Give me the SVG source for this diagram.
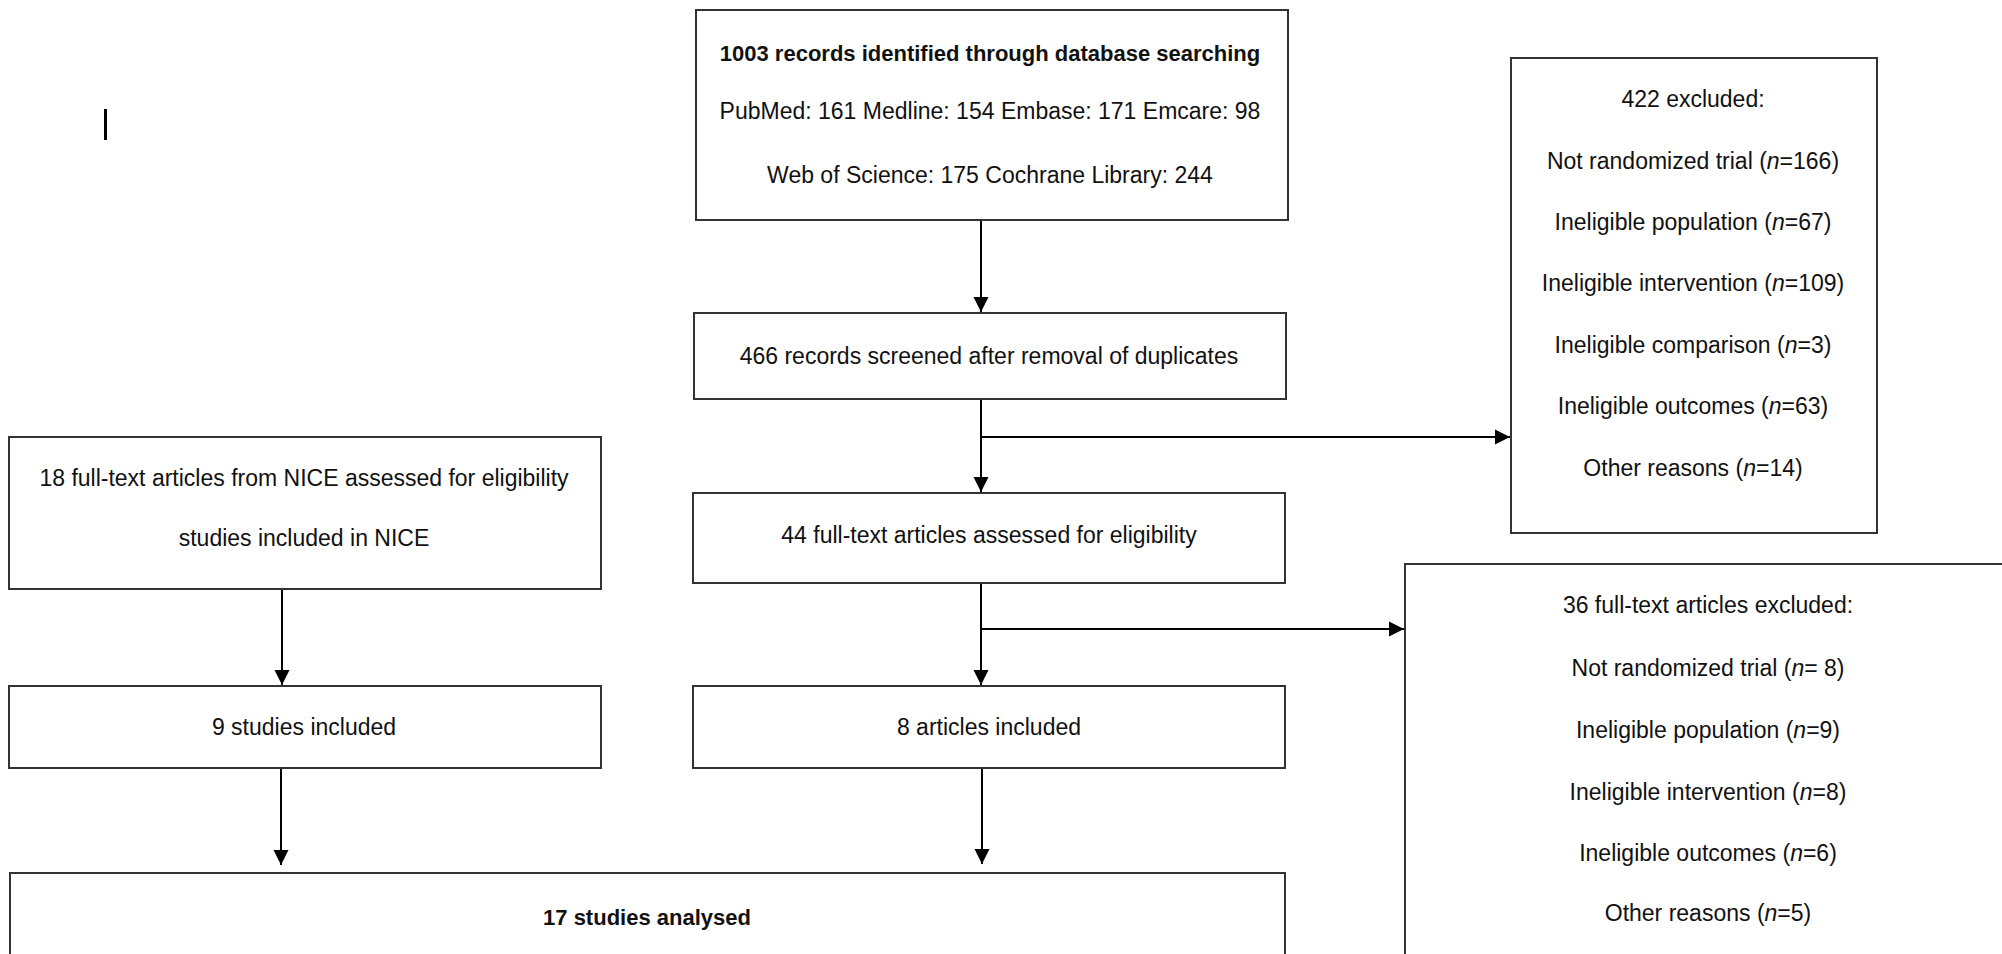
<svg xmlns="http://www.w3.org/2000/svg" width="2002" height="954" viewBox="0 0 2002 954">
<style>
.box{fill:#fff;stroke:#333;stroke-width:2}
.t{font-family:"Liberation Sans",Arial,sans-serif;font-size:23px;fill:#111;text-anchor:middle}
.b{font-weight:bold;font-size:22px}
.i{font-style:italic}
.c{stroke:#000;stroke-width:2;fill:none}
</style>
<defs>
<marker id="ah" markerUnits="userSpaceOnUse" markerWidth="16" markerHeight="16" viewBox="0 0 16 16" refX="15" refY="8" orient="auto">
<path d="M0,0.5 L15,8 L0,15.5 Z" fill="#000"/>
</marker>
</defs>
<rect x="104" y="109" width="3" height="31" fill="#000"/>
<g id="connectors">
<line class="c" x1="981" y1="220" x2="981" y2="312" marker-end="url(#ah)"/>
<line class="c" x1="981" y1="399" x2="981" y2="492" marker-end="url(#ah)"/>
<line class="c" x1="981" y1="437" x2="1510" y2="437" marker-end="url(#ah)"/>
<line class="c" x1="981" y1="583" x2="981" y2="685" marker-end="url(#ah)"/>
<line class="c" x1="981" y1="629" x2="1404" y2="629" marker-end="url(#ah)"/>
<line class="c" x1="982" y1="768" x2="982" y2="864" marker-end="url(#ah)"/>
<line class="c" x1="282" y1="589" x2="282" y2="685" marker-end="url(#ah)"/>
<line class="c" x1="281" y1="768" x2="281" y2="865" marker-end="url(#ah)"/>
</g>
<g id="identified">
<rect class="box" x="696" y="10" width="592" height="210"/>
<text class="t b" x="990" y="61">1003 records identified through database searching</text>
<text class="t" x="990" y="119">PubMed: 161 Medline: 154 Embase: 171 Emcare: 98</text>
<text class="t" x="990" y="183">Web of Science: 175 Cochrane Library: 244</text>
</g>
<g id="screened">
<rect class="box" x="694" y="313" width="592" height="86"/>
<text class="t" x="989" y="364">466 records screened  after removal of duplicates</text>
</g>
<g id="excluded1">
<rect class="box" x="1511" y="58" width="366" height="475"/>
<text class="t" x="1693" y="107">422 excluded:</text>
<text class="t" x="1693" y="169">Not randomized trial (<tspan class="i">n</tspan>=166)</text>
<text class="t" x="1693" y="230">Ineligible population (<tspan class="i">n</tspan>=67)</text>
<text class="t" x="1693" y="291">Ineligible intervention (<tspan class="i">n</tspan>=109)</text>
<text class="t" x="1693" y="353">Ineligible comparison (<tspan class="i">n</tspan>=3)</text>
<text class="t" x="1693" y="414">Ineligible outcomes (<tspan class="i">n</tspan>=63)</text>
<text class="t" x="1693" y="476">Other reasons (<tspan class="i">n</tspan>=14)</text>
</g>
<g id="assessed">
<rect class="box" x="693" y="493" width="592" height="90"/>
<text class="t" x="989" y="543">44 full-text articles assessed for eligibility</text>
</g>
<g id="nice">
<rect class="box" x="9" y="437" width="592" height="152"/>
<text class="t" x="304" y="486">18 full-text articles from NICE assessed for eligibility</text>
<text class="t" x="304" y="546">studies included  in NICE</text>
</g>
<g id="nice-included">
<rect class="box" x="9" y="686" width="592" height="82"/>
<text class="t" x="304" y="735">9 studies included</text>
</g>
<g id="articles-included">
<rect class="box" x="693" y="686" width="592" height="82"/>
<text class="t" x="989" y="735">8 articles included</text>
</g>
<g id="excluded2">
<rect class="box" x="1405" y="564" width="620" height="420"/>
<text class="t" x="1708" y="613">36 full-text articles excluded:</text>
<text class="t" x="1708" y="676">Not randomized trial (<tspan class="i">n</tspan>= 8)</text>
<text class="t" x="1708" y="738">Ineligible population (<tspan class="i">n</tspan>=9)</text>
<text class="t" x="1708" y="800">Ineligible intervention (<tspan class="i">n</tspan>=8)</text>
<text class="t" x="1708" y="861">Ineligible outcomes (<tspan class="i">n</tspan>=6)</text>
<text class="t" x="1708" y="921">Other reasons (<tspan class="i">n</tspan>=5)</text>
</g>
<g id="analysed">
<rect class="box" x="10" y="873" width="1275" height="120"/>
<text class="t b" x="647" y="925">17 studies analysed</text>
</g>
</svg>
